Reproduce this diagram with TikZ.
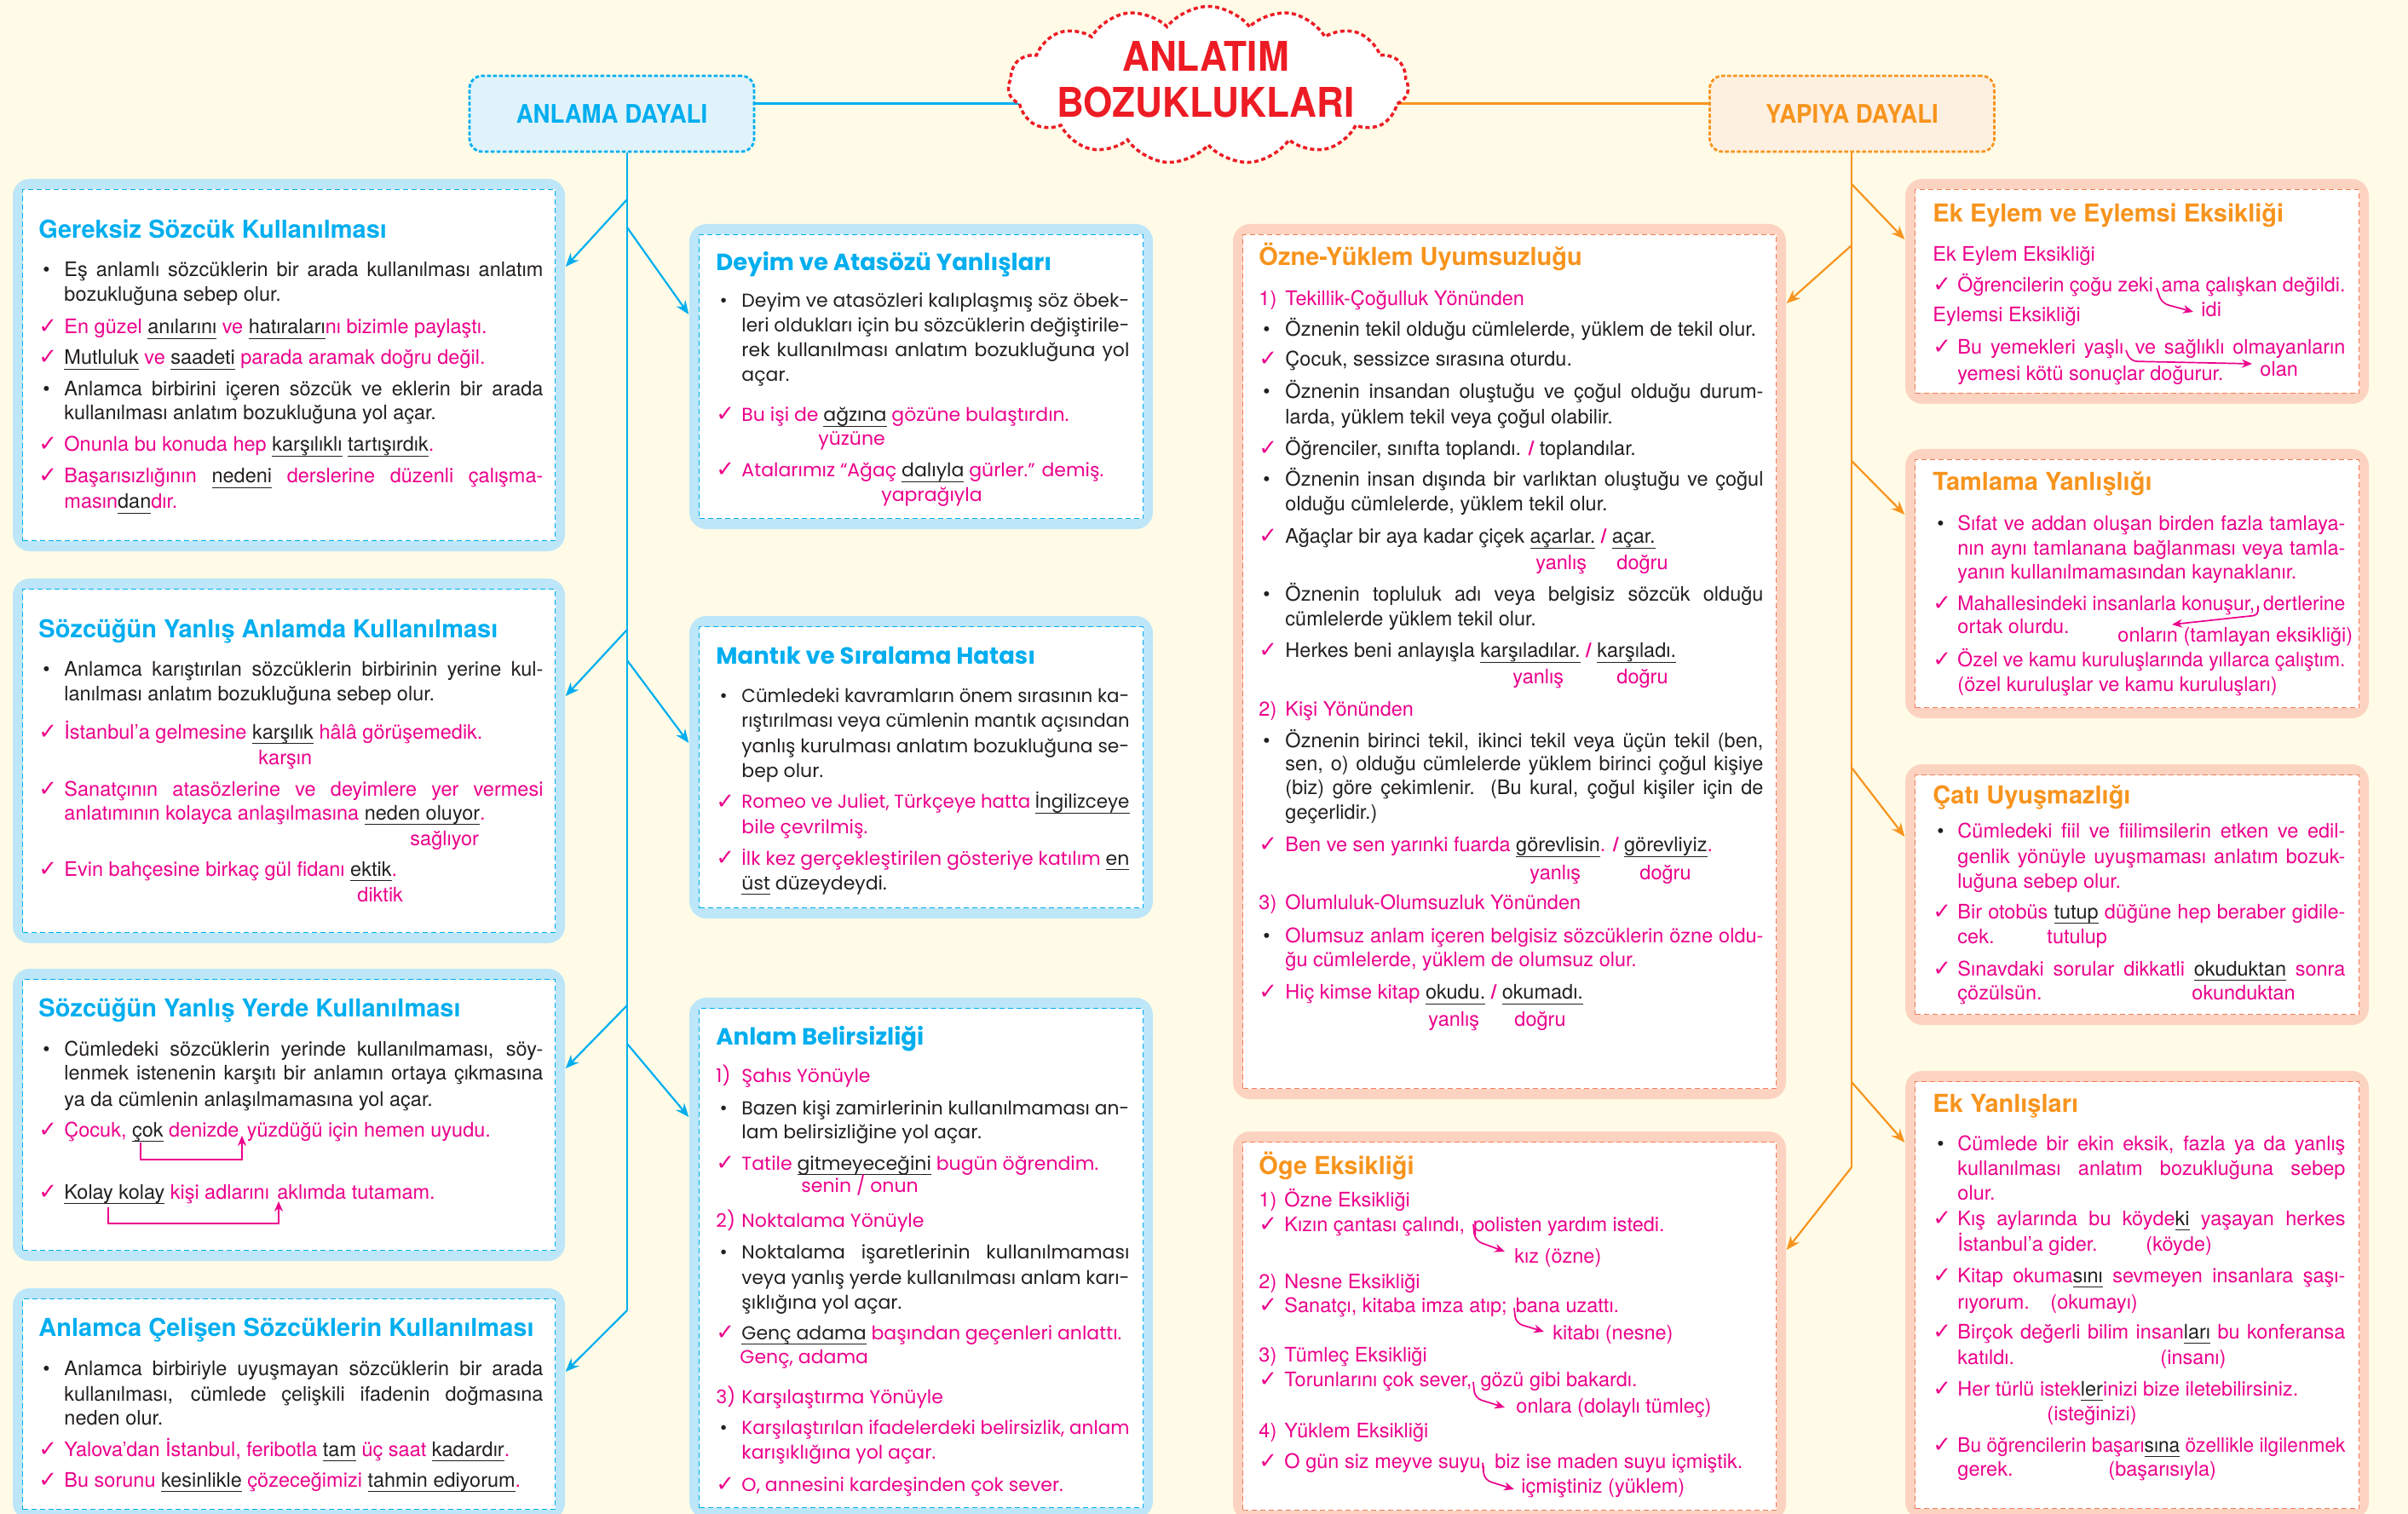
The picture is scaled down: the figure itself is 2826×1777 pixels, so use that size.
\documentclass[tikz,border=0pt]{standalone}
\usepackage{fontspec}
\usepackage{graphicx}
\setmainfont{TeX Gyre Heros}
\newfontfamily\hv{TeX Gyre Heros}
\newfontfamily\pop{Poppins}
\newfontfamily\dv{DejaVu Sans}
\newfontfamily\ttlfont[FakeStretch=0.92]{TeX Gyre Heros}
\usetikzlibrary{shapes.symbols,arrows.meta}
\pgfdeclarelayer{back}\pgfdeclarelayer{lines}\pgfsetlayers{back,lines,main}
\definecolor{cy}{HTML}{00AEEF}
\definecolor{cyL}{HTML}{BDE6F8}
\definecolor{cyP}{HTML}{E0F3FB}
\definecolor{og}{HTML}{F7941D}
\definecolor{ogL}{HTML}{FCD3C1}
\definecolor{ogP}{HTML}{FDF0E1}
\definecolor{ogD}{HTML}{F37B5B}
\definecolor{mag}{HTML}{EC008C}
\definecolor{ink}{HTML}{231F20}
\definecolor{bgc}{HTML}{FFFBE7}
\definecolor{rd}{HTML}{ED1C24}
\newdimen\pxu \pxu=0.1mm
\newdimen\lw \newdimen\ind
\newsavebox\tbox \newsavebox\ubox
\def\bx{0}\def\by{0}
\newcommand\BoxSet[4]{\def\bx{#1}\def\by{#2}\lw=#3\pxu\ind=#4\pxu}
\newcommand\M[1]{\textcolor{mag}{#1}}
\newcommand\Sl{\textcolor{mag}{\bfseries/}}
\newcommand\U[1]{\sbox\ubox{\color{ink}#1}\rlap{\color{ink}\rule[-0.26em]{\wd\ubox}{0.05em}}\usebox\ubox}
\newcommand\LL[2]{\rlap{\raisebox{\dimexpr\by\pxu-#1\pxu\relax}{#2}}\ignorespaces}
\newcommand\J[1]{\sbox\tbox{#1}\ifdim\wd\tbox>\lw\resizebox{\lw}{\height}{#1}\else\hbox to\lw{#1}\fi}
\newcommand\F[1]{\sbox\tbox{#1}\ifdim\wd\tbox>\lw\resizebox{\lw}{\height}{#1}\else\usebox\tbox\fi}
\newcommand\ck{{\dv\color{mag}\fontsize{2.6mm}{2.9mm}\selectfont\char"2713}}
\newcommand\mB{\hbox to\ind{\hspace*{0.5mm}{\hv\textbullet}\hfil}}
\newcommand\mC{\hbox to\ind{\ck\hfil}}
\newcommand\Bj[2]{\LL{#1}{\mB\J{#2}}}
\newcommand\Bf[2]{\LL{#1}{\mB\F{#2}}}
\newcommand\Cj[2]{\LL{#1}{\mC\J{#2}}}
\newcommand\Cf[2]{\LL{#1}{\mC\F{#2}}}
\newcommand\Nj[2]{\LL{#1}{\hspace*{\ind}\J{#2}}}
\newcommand\Nf[2]{\LL{#1}{\hspace*{\ind}\F{#2}}}
\newcommand\Hn[3]{\LL{#1}{\hbox to\ind{\M{#2}\hfil}\M{#3}}}
\newcommand\At[3]{\LL{#1}{\hspace*{\dimexpr#2\pxu-\bx\pxu\relax}#3}}
\newcommand\Tb[1]{\LL{\by}{\fontsize{2.9mm}{3mm}\selectfont\bfseries\color{cy}#1}}
\newcommand\To[1]{\LL{\by}{\fontsize{2.9mm}{3mm}\selectfont\bfseries\color{og}#1}}
\newcommand\Tp[1]{\LL{\by}{\fontsize{2.75mm}{3mm}\selectfont\bfseries\color{cy}#1}}
\newcommand\Frame[7]{%
 \node[rectangle, rounded corners=2mm, fill=#6, inner sep=0pt, minimum width={(#4-#2)*0.1mm}, minimum height={(#5-#3)*0.1mm}] (#1) at ({(#2+#4)/2},{(#3+#5)/2}) {};
 \node[rectangle, fill=white, draw=#7, dash pattern=on 0.6mm off 0.4mm, line width=0.14mm, inner sep=0pt, minimum width={(#4-#2-23)*0.1mm}, minimum height={(#5-#3-25)*0.1mm}] (#1i) at (#1.center) {};}
\tikzset{
 body/.style={anchor=base west, inner sep=0pt, text=ink, font=\hv\fontsize{2.35mm}{2.9mm}\selectfont},
 pbody/.style={anchor=base west, inner sep=0pt, text=ink, font=\pop\fontsize{2.2mm}{2.9mm}\selectfont},
 hb/.style={draw=cy, line width=0.3mm},
 ho/.style={draw=og, line width=0.3mm},
 tb/.style={draw=cy, line width=0.22mm},
 to/.style={draw=og, line width=0.22mm},
 bla/.style={tb, -{Stealth[length=1.6mm,width=1.3mm]}},
 ola/.style={to, -{Stealth[length=1.6mm,width=1.3mm]}},
 ma/.style={draw=mag, line width=0.17mm, -{Stealth[length=1.2mm,width=1mm]}},
}
\begin{document}
\begin{tikzpicture}[x=0.1mm,y=-0.1mm]
\useasboundingbox (0,0) rectangle (2826,1777);
\begin{pgfonlayer}{back}
\fill[bgc] (0,0) rectangle (2826,1777);
\end{pgfonlayer}
% ---------- frames
\Frame{G1}{15}{210}{663}{647}{cyL}{cy}
\Frame{G2}{15}{679}{663}{1107}{cyL}{cy}
\Frame{G3}{15}{1137}{663}{1480}{cyL}{cy}
\Frame{G4}{15}{1512}{663}{1784}{cyL}{cy}
\Frame{M1}{809}{263}{1353}{621}{cyL}{cy}
\Frame{M2}{809}{723}{1353}{1078}{cyL}{cy}
\Frame{M3}{809}{1171}{1353}{1782}{cyL}{cy}
\Frame{Oz}{1447}{263}{2096}{1290}{ogL}{ogD}
\Frame{Og}{1447}{1328}{2096}{1785}{ogL}{ogD}
\Frame{R1}{2236}{210}{2780}{474}{ogL}{ogD}
\Frame{R2}{2236}{527}{2780}{843}{ogL}{ogD}
\Frame{R3}{2236}{897}{2780}{1203}{ogL}{ogD}
\Frame{R4}{2236}{1257}{2780}{1783}{ogL}{ogD}
% ---------- G1
\BoxSet{43}{280}{562}{30}
\node[body] (tG1) at (\bx,\by) {%
\Tb{Gereksiz Sözcük Kullanılması}
\Bj{325}{Eş anlamlı sözcüklerin bir arada kullanılması anlatım}
\Nf{354}{bozukluğuna sebep olur.}
\Cf{392}{\M{En güzel} \U{anılarını} \M{ve} \U{hatıraları}\M{nı bizimle paylaştı.}}
\Cf{428}{\U{Mutluluk} \M{ve} \U{saadeti} \M{parada aramak doğru değil.}}
\Bj{465}{Anlamca birbirini içeren sözcük ve eklerin bir arada}
\Nf{493}{kullanılması anlatım bozukluğuna yol açar.}
\Cf{530}{\M{Onunla bu konuda hep} \U{karşılıklı} \U{tartışırdık}\M{.}}
\Cj{567}{\M{Başarısızlığının} \U{nedeni} \M{derslerine} \M{düzenli} \M{çalışma-}}
\Nf{597}{\M{masın}\U{dan}\M{dır.}}
};
% ---------- G2
\BoxSet{43}{748}{562}{30}
\node[body] (tG2) at (\bx,\by) {%
\Tb{Sözcüğün Yanlış Anlamda Kullanılması}
\Bj{793}{Anlamca karıştırılan sözcüklerin birbirinin yerine kul-}
\Nf{822}{lanılması anlatım bozukluğuna sebep olur.}
\Cf{867}{\M{İstanbul’a gelmesine} \U{karşılık} \M{hâlâ görüşemedik.}}
\At{897}{301}{\M{karşın}}
\Cj{934}{\M{Sanatçının} \M{atasözlerine} \M{ve} \M{deyimlere} \M{yer} \M{vermesi}}
\Nf{962}{\M{anlatımının kolayca anlaşılmasına} \U{neden oluyor}\M{.}}
\At{992}{479}{\M{sağlıyor}}
\Cf{1028}{\M{Evin bahçesine birkaç gül fidanı} \U{ektik}\M{.}}
\At{1058}{417}{\M{diktik}}
};
% ---------- G3
\BoxSet{43}{1193}{562}{30}
\node[body] (tG3) at (\bx,\by) {%
\Tb{Sözcüğün Yanlış Yerde Kullanılması}
\Bj{1239}{Cümledeki sözcüklerin yerinde kullanılmaması, söy-}
\Nj{1267}{lenmek istenenin karşıtı bir anlamın ortaya çıkmasına}
\Nf{1298}{ya da cümlenin anlaşılmamasına yol açar.}
\Cf{1334}{\M{Çocuk,} \U{çok} \M{denizde\hspace{0.12em} yüzdüğü için hemen uyudu.}}
\Cf{1407}{\U{Kolay kolay} \M{kişi adlarını\hspace{0.12em} aklımda tutamam.}}
};
% ---------- G4
\BoxSet{43}{1568}{562}{30}
\node[body] (tG4) at (\bx,\by) {%
\Tb{Anlamca Çelişen Sözcüklerin Kullanılması}
\Bj{1614}{Anlamca birbiriyle uyuşmayan sözcüklerin bir arada}
\Nj{1644}{kullanılması, cümlede çelişkili ifadenin doğmasına}
\Nf{1672}{neden olur.}
\Cf{1709}{\M{Yalova’dan İstanbul, feribotla} \U{tam} \M{üç saat} \U{kadardır}\M{.}}
\Cf{1745}{\M{Bu sorunu} \U{kesinlikle} \M{çözeceğimizi} \U{tahmin ediyorum}\M{.}}
};
% ---------- M1
\BoxSet{838}{318}{455}{30}
\node[pbody] (tM1) at (\bx,\by) {%
\Tp{Deyim ve Atasözü Yanlışları}
\Bj{361}{Deyim ve atasözleri kalıplaşmış söz öbek-}
\Nj{390}{leri oldukları için bu sözcüklerin değiştirile-}
\Nj{419}{rek kullanılması anlatım bozukluğuna yol}
\Nf{448}{açar.}
\Cf{495}{\M{Bu işi de} \U{ağzına} \M{gözüne bulaştırdın.}}
\At{523}{958}{\M{yüzüne}}
\Cf{560}{\M{Atalarımız “Ağaç} \U{dalıyla} \M{gürler.” demiş.}}
\At{589}{1032}{\M{yaprağıyla}}
};
% ---------- M2
\BoxSet{838}{779}{455}{30}
\node[pbody] (tM2) at (\bx,\by) {%
\Tp{Mantık ve Sıralama Hatası}
\Bj{824}{Cümledeki kavramların önem sırasının ka-}
\Nj{853}{rıştırılması veya cümlenin mantık açısından}
\Nj{883}{yanlış kurulması anlatım bozukluğuna se-}
\Nf{912}{bep olur.}
\Cj{949}{\M{Romeo} \M{ve} \M{Juliet,} \M{Türkçeye} \M{hatta} \U{İngilizceye}}
\Nf{978}{\M{bile çevrilmiş.}}
\Cj{1015}{\M{İlk} \M{kez} \M{gerçekleştirilen} \M{gösteriye} \M{katılım} \U{en}}
\Nf{1044}{\U{üst} düzeydeydi.}
};
% ---------- M3
\BoxSet{838}{1226}{455}{30}
\node[pbody] (tM3) at (\bx,\by) {%
\Tp{Anlam Belirsizliği}
\Hn{1270}{1)}{Şahıs Yönüyle}
\Bj{1308}{Bazen kişi zamirlerinin kullanılmaması an-}
\Nf{1336}{lam belirsizliğine yol açar.}
\Cf{1373}{\M{Tatile} \U{gitmeyeceğini} \M{bugün öğrendim.}}
\At{1399}{938}{\M{senin / onun}}
\Hn{1440}{2)}{Noktalama Yönüyle}
\Bj{1477}{Noktalama işaretlerinin kullanılmaması}
\Nj{1507}{veya yanlış yerde kullanılması anlam karı-}
\Nf{1536}{şıklığına yol açar.}
\Cf{1572}{\U{Genç adama} \M{başından geçenleri anlattı.}}
\At{1600}{866}{\M{Genç, adama}}
\Hn{1647}{3)}{Karşılaştırma Yönüyle}
\Bj{1683}{\M{Karşılaştırılan} \M{ifadelerdeki} \M{belirsizlik,} \M{anlam}}
\Nf{1712}{\M{karışıklığına yol açar.}}
\Cf{1750}{\M{O, annesini kardeşinden çok sever.}}
};
% ---------- Ozne
\BoxSet{1475}{312}{561}{31}
\node[body] (tOz) at (\bx,\by) {%
\To{Özne-Yüklem Uyumsuzluğu}
\Hn{359}{1)}{Tekillik-Çoğulluk Yönünden}
\Bf{395}{Öznenin tekil olduğu cümlelerde, yüklem de tekil olur.}
\Cf{430}{Çocuk, sessizce sırasına oturdu.}
\Bj{468}{Öznenin insandan oluştuğu ve çoğul olduğu durum-}
\Nf{498}{larda, yüklem tekil veya çoğul olabilir.}
\Cf{535}{Öğrenciler, sınıfta toplandı. \Sl{} toplandılar.}
\Bj{571}{Öznenin insan dışında bir varlıktan oluştuğu ve çoğul}
\Nf{600}{olduğu cümlelerde, yüklem tekil olur.}
\Cf{638}{Ağaçlar bir aya kadar çiçek \U{açarlar.} \Sl{} \U{açar.}}
\At{669}{1800}{\M{yanlış}}
\At{669}{1895}{\M{doğru}}
\Bj{706}{Öznenin topluluk adı veya belgisiz sözcük olduğu}
\Nf{735}{cümlelerde yüklem tekil olur.}
\Cf{772}{Herkes beni anlayışla \U{karşıladılar.} \Sl{} \U{karşıladı.}}
\At{803}{1773}{\M{yanlış}}
\At{803}{1895}{\M{doğru}}
\Hn{841}{2)}{Kişi Yönünden}
\Bj{878}{Öznenin birinci tekil, ikinci tekil veya üçün tekil (ben,}
\Nj{905}{sen, o) olduğu cümlelerde yüklem birinci çoğul kişiye}
\Nj{933}{(biz) göre çekimlenir. (Bu kural, çoğul kişiler için de}
\Nf{962}{geçerlidir.)}
\Cf{1000}{\M{Ben ve sen yarınki fuarda} \U{görevlisin}\M{.} \Sl{} \U{görevliyiz}\M{.}}
\At{1033}{1793}{\M{yanlış}}
\At{1033}{1922}{\M{doğru}}
\Hn{1068}{3)}{Olumluluk-Olumsuzluk Yönünden}
\Bj{1107}{\M{Olumsuz} \M{anlam} \M{içeren} \M{belgisiz} \M{sözcüklerin} \M{özne} \M{oldu-}}
\Nf{1135}{\M{ğu cümlelerde, yüklem de olumsuz olur.}}
\Cf{1173}{\M{Hiç kimse kitap} \U{okudu.} \Sl{} \U{okumadı.}}
\At{1205}{1674}{\M{yanlış}}
\At{1205}{1775}{\M{doğru}}
};
% ---------- Oge
\BoxSet{1475}{1378}{561}{30}
\node[body] (tOg) at (\bx,\by) {%
\To{Öge Eksikliği}
\Hn{1416}{1)}{Özne Eksikliği}
\Cf{1445}{\M{Kızın çantası çalındı,\hspace{0.15em} polisten yardım istedi.}}
\At{1482}{1775}{\M{kız (özne)}}
\Hn{1512}{2)}{Nesne Eksikliği}
\Cf{1540}{\M{Sanatçı, kitaba imza atıp;\hspace{0.15em} bana uzattı.}}
\At{1572}{1820}{\M{kitabı (nesne)}}
\Hn{1598}{3)}{Tümleç Eksikliği}
\Cf{1627}{\M{Torunlarını çok sever,\hspace{0.15em} gözü gibi bakardı.}}
\At{1658}{1777}{\M{onlara (dolaylı tümleç)}}
\Hn{1687}{4)}{Yüklem Eksikliği}
\Cf{1723}{\M{O gün siz meyve suyu,\hspace{0.15em} biz ise maden suyu içmiştik.}}
\At{1752}{1783}{\M{içmiştiniz (yüklem)}}
};
% ---------- R1
\BoxSet{2266}{261}{455}{29}
\node[body] (tR1) at (\bx,\by) {%
\To{Ek Eylem ve Eylemsi Eksikliği}
\LL{307}{\M{Ek Eylem Eksikliği}}
\Cf{343}{\M{Öğrencilerin çoğu zeki\hspace{0.15em} ama çalışkan değildi.}}
\At{372}{2581}{\M{idi}}
\LL{378}{\M{Eylemsi Eksikliği}}
\Cj{416}{\M{Bu} \M{yemekleri} \M{yaşlı}\hspace{0.15em} \M{ve} \M{sağlıklı} \M{olmayanların}}
\Nf{447}{\M{yemesi kötü sonuçlar doğurur.}}
\At{442}{2650}{\M{olan}}
};
% ---------- R2
\BoxSet{2266}{575}{455}{29}
\node[body] (tR2) at (\bx,\by) {%
\To{Tamlama Yanlışlığı}
\Bj{622}{\M{Sıfat} \M{ve} \M{addan} \M{oluşan} \M{birden} \M{fazla} \M{tamlaya-}}
\Nj{651}{\M{nın} \M{aynı} \M{tamlanana} \M{bağlanması} \M{veya} \M{tamla-}}
\Nf{679}{\M{yanın kullanılmamasından kaynaklanır.}}
\Cj{716}{\M{Mahallesindeki} \M{insanlarla} \M{konuşur,}\hspace{0.15em} \M{dertlerine}}
\Nf{744}{\M{ortak olurdu.}}
\At{753.5}{2483}{\M{onların (tamlayan eksikliği)}}
\Cf{782.5}{\M{Özel ve kamu kuruluşlarında yıllarca çalıştım.}}
\Nf{811.5}{\M{(özel kuruluşlar ve kamu kuruluşları)}}
};
% ---------- R3
\BoxSet{2266}{943}{455}{29}
\node[body] (tR3) at (\bx,\by) {%
\To{Çatı Uyuşmazlığı}
\Bj{983}{\M{Cümledeki} \M{fiil} \M{ve} \M{fiilimsilerin} \M{etken} \M{ve} \M{edil-}}
\Nj{1013}{\M{genlik} \M{yönüyle} \M{uyuşmaması} \M{anlatım} \M{bozuk-}}
\Nf{1042}{\M{luğuna sebep olur.}}
\Cj{1078}{\M{Bir} \M{otobüs} \U{tutup} \M{düğüne} \M{hep} \M{beraber} \M{gidile-}}
\Nf{1107}{\M{cek.}}
\At{1107}{2400}{\M{tutulup}}
\Cj{1145}{\M{Sınavdaki} \M{sorular} \M{dikkatli} \U{okuduktan} \M{sonra}}
\Nf{1173}{\M{çözülsün.}}
\At{1173}{2570}{\M{okunduktan}}
};
% ---------- R4
\BoxSet{2266}{1305}{455}{29}
\node[body] (tR4) at (\bx,\by) {%
\To{Ek Yanlışları}
\Bj{1350}{\M{Cümlede} \M{bir} \M{ekin} \M{eksik,} \M{fazla} \M{ya} \M{da} \M{yanlış}}
\Nj{1379}{\M{kullanılması} \M{anlatım} \M{bozukluğuna} \M{sebep}}
\Nf{1408}{\M{olur.}}
\Cj{1438}{\M{Kış} \M{aylarında} \M{bu} \M{köyde}\U{ki} \M{yaşayan} \M{herkes}}
\Nf{1468}{\M{İstanbul’a gider.}}
\At{1468}{2516}{\M{(köyde)}}
\Cj{1505}{\M{Kitap} \M{okuma}\U{sını} \M{sevmeyen} \M{insanlara} \M{şaşı-}}
\Nf{1536}{\M{rıyorum.}}
\At{1536}{2404}{\M{(okumayı)}}
\Cj{1571}{\M{Birçok} \M{değerli} \M{bilim} \M{insan}\U{ları} \M{bu} \M{konferansa}}
\Nf{1601}{\M{katıldı.}}
\At{1601}{2533}{\M{(insanı)}}
\Cf{1638}{\M{Her türlü istek}\U{ler}\M{inizi bize iletebilirsiniz.}}
\At{1667}{2400}{\M{(isteğinizi)}}
\Cj{1704}{\M{Bu} \M{öğrencilerin} \M{başarı}\U{sına} \M{özellikle} \M{ilgilenmek}}
\Nf{1732}{\M{gerek.}}
\At{1732}{2472}{\M{(başarısıyla)}}
};
% ---------- in-text arrows
\draw[ma] (165,1341) -- (165,1361) -- (284,1361) -- (284,1333);
\draw[ma] (127,1417) -- (127,1436) -- (327,1436) -- (327,1410);
\draw[ma, rounded corners=0.8mm] (1729,1437) -- (1731,1456) -- (1766,1469);
\draw[ma, rounded corners=0.8mm] (1777,1535) -- (1779,1553) -- (1812,1563);
\draw[ma, rounded corners=0.8mm] (1729,1622) -- (1731,1641) -- (1766,1652);
\draw[ma, rounded corners=0.8mm] (1740,1717) -- (1742,1737) -- (1777,1748);
\draw[ma, rounded corners=0.8mm] (2531,338) -- (2537,356) -- (2574,366);
\draw[ma, rounded corners=0.8mm] (2495,411) -- (2500,424) -- (2643,427);
\draw[ma, rounded corners=0.5mm] (2650,711) -- (2650,722) -- (2549,733);
% ---------- header
\node[cloud, cloud puffs=15, cloud puff arc=105, aspect=2.5, draw=rd, fill=white, line width=0.35mm, dash pattern=on 0.5mm off 0.35mm, minimum width=47mm, minimum height=18.5mm, inner sep=0pt] (cloud) at (1418,100) {};
\node[font=\ttlfont\bfseries\fontsize{4.8mm}{5.4mm}\selectfont, text=rd, align=center, inner sep=0pt] (ttl) at (1415,93.5) {ANLATIM\\BOZUKLUKLARI};
\node[draw=cy, fill=cyP, line width=0.28mm, dash pattern=on 0.45mm off 0.25mm, rounded corners=1.5mm, minimum width=33.4mm, minimum height=8.9mm, inner sep=0pt, text=cy, font=\ttlfont\bfseries\fontsize{3mm}{3mm}\selectfont] (anl) at (718,133.5) {ANLAMA DAYALI};
\node[draw=og, fill=ogP, line width=0.28mm, dash pattern=on 0.45mm off 0.25mm, rounded corners=1.5mm, minimum width=33.4mm, minimum height=8.9mm, inner sep=0pt, text=og, font=\ttlfont\bfseries\fontsize{3mm}{3mm}\selectfont] (yap) at (2173.5,133.5) {YAPIYA DAYALI};
% ---------- connectors
\coordinate (lb1) at (736,234);
\coordinate (lb2) at (736,267);
\coordinate (lb3) at (736,739);
\coordinate (lb4) at (736,775);
\coordinate (lb5) at (736,1180);
\coordinate (lb6) at (736,1225);
\coordinate (lb7) at (736,1538);
\coordinate (ob1) at (2173,216);
\coordinate (ob2) at (2173,288);
\coordinate (ob3) at (2173,541);
\coordinate (ob4) at (2173,901);
\coordinate (ob5) at (2173,1270);
\coordinate (ob6) at (2173,1370);
\begin{pgfonlayer}{lines}
\draw[hb] (anl.east |- 0,122) -- (cloud.center |- 0,122);
\draw[ho] (cloud.center |- 0,122) -- (yap.west |- 0,122);
\draw[tb] (anl.south -| lb1) -- (lb7);
\draw[to] (yap.south -| ob1) -- (ob6);
\draw[bla] (lb1) -- (G1.east |- 0,313);
\draw[bla] (lb2) -- (M1.west |- 0,369);
\draw[bla] (lb3) -- (G2.east |- 0,817);
\draw[bla] (lb4) -- (M2.west |- 0,872);
\draw[bla] (lb5) -- (G3.east |- 0,1254);
\draw[bla] (lb6) -- (M3.west |- 0,1311);
\draw[bla] (lb7) -- (G4.east |- 0,1610);
\draw[ola] (ob1) -- (R1.west |- 0,281);
\draw[ola] (ob2) -- (Oz.east |- 0,356);
\draw[ola] (ob3) -- (R2.west |- 0,604);
\draw[ola] (ob4) -- (R3.west |- 0,982);
\draw[ola] (ob5) -- (R4.west |- 0,1341);
\draw[ola] (ob6) -- (Og.east |- 0,1467);
\end{pgfonlayer}
\end{tikzpicture}
\end{document}
